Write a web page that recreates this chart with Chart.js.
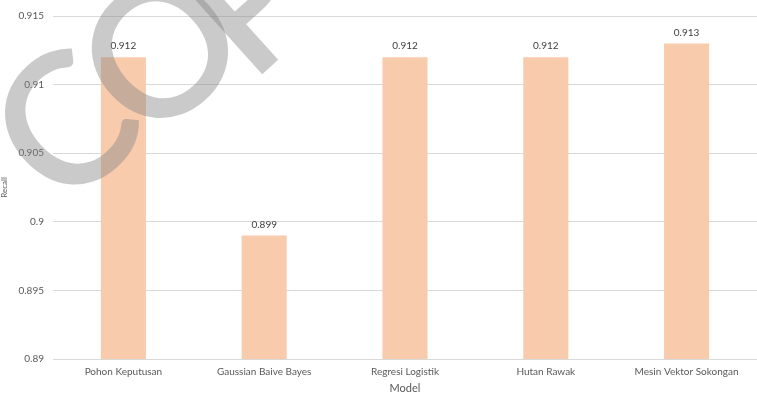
<!DOCTYPE html>
<html lang="en">
<head>
    <meta charset="UTF-8">
    <title>Recall per Model</title>
    <script src="https://cdn.jsdelivr.net/npm/chart.js"></script>
    <style>
        html, body { margin: 0; padding: 0; background: #fff; }
        #wrap { width: 757px; height: 397px; }
    </style>
</head>
<body>
    <div id="wrap"><canvas id="recallChart"></canvas></div>

    <script>
        const models = ['Pohon Keputusan', 'Gaussian Baive Bayes', 'Regresi Logistik', 'Hutan Rawak', 'Mesin Vektor Sokongan'];
        const recall = [0.912, 0.899, 0.912, 0.912, 0.913];
        const yTicks = [0.89, 0.895, 0.9, 0.905, 0.91, 0.915];

        const font = 'Lato, "Open Sans", sans-serif';

        // value above each bar
        const barLabels = {
            id: 'barLabels',
            afterDatasetsDraw(chart) {
                const ctx = chart.ctx;
                const meta = chart.getDatasetMeta(0);
                ctx.save();
                ctx.fillStyle = '#404040';
                ctx.font = '10px ' + font;
                ctx.textAlign = 'center';
                ctx.textBaseline = 'bottom';
                meta.data.forEach((bar, i) => {
                    ctx.fillText(recall[i].toFixed(3), bar.x, bar.y - 6);
                });
                ctx.restore();
            }
        };

        // grey "COPY" stamp, one letter at a time, tilted across the top left
        const stampLetters = [['C', 64, 124], ['O', 160, 50], ['P', 248, -2], ['Y', 330, -72]];
        const stamp = {
            id: 'stamp',
            afterDraw(chart) {
                const ctx = chart.ctx;
                ctx.save();
                ctx.fillStyle = 'rgba(128, 128, 128, 0.42)';
                ctx.font = '600 184px Lato, "Open Sans", sans-serif';
                ctx.textAlign = 'center';
                ctx.textBaseline = 'alphabetic';
                stampLetters.forEach(([ch, x, y]) => {
                    ctx.save();
                    ctx.translate(x, y);
                    ctx.rotate(-42 * Math.PI / 180);
                    ctx.fillText(ch, 0, 66);
                    ctx.restore();
                });
                ctx.restore();
            }
        };

        new Chart(document.getElementById('recallChart'), {
            type: 'bar',
            data: {
                labels: models,
                datasets: [{
                    label: 'Recall',
                    data: recall,
                    backgroundColor: '#F8CBAD',
                    barPercentage: 0.32,
                    categoryPercentage: 1
                }]
            },
            options: {
                responsive: true,
                maintainAspectRatio: false,
                animation: false,
                layout: { padding: { top: 16, right: 0, left: 0, bottom: 0 } },
                plugins: { legend: { display: false }, tooltip: { enabled: false } },
                scales: {
                    x: {
                        afterFit(scale) { scale.height = 38; },
                        grid: { display: false, drawTicks: false },
                        border: { color: '#d9d9d9' },
                        ticks: { color: '#595959', font: { family: font, size: 10 }, maxRotation: 0, padding: 7 },
                        title: { display: true, text: 'Model', color: '#595959', font: { family: font, size: 11 }, padding: { top: 2, bottom: 2 } }
                    },
                    y: {
                        min: 0.89,
                        max: 0.915,
                        afterFit(scale) { scale.width = 53; },
                        afterBuildTicks(scale) { scale.ticks = yTicks.map(v => ({ value: v })); },
                        grid: { color: '#d9d9d9', drawTicks: false },
                        border: { display: false },
                        ticks: {
                            color: '#595959',
                            padding: 9,
                            font: { family: font, size: 10 },
                            callback: v => String(Number(v.toFixed(3)))
                        },
                        title: { display: true, text: 'Recall', color: '#595959', font: { family: font, size: 8 }, padding: 0 }
                    }
                }
            },
            plugins: [barLabels, stamp]
        });
    </script>
</body>
</html>
